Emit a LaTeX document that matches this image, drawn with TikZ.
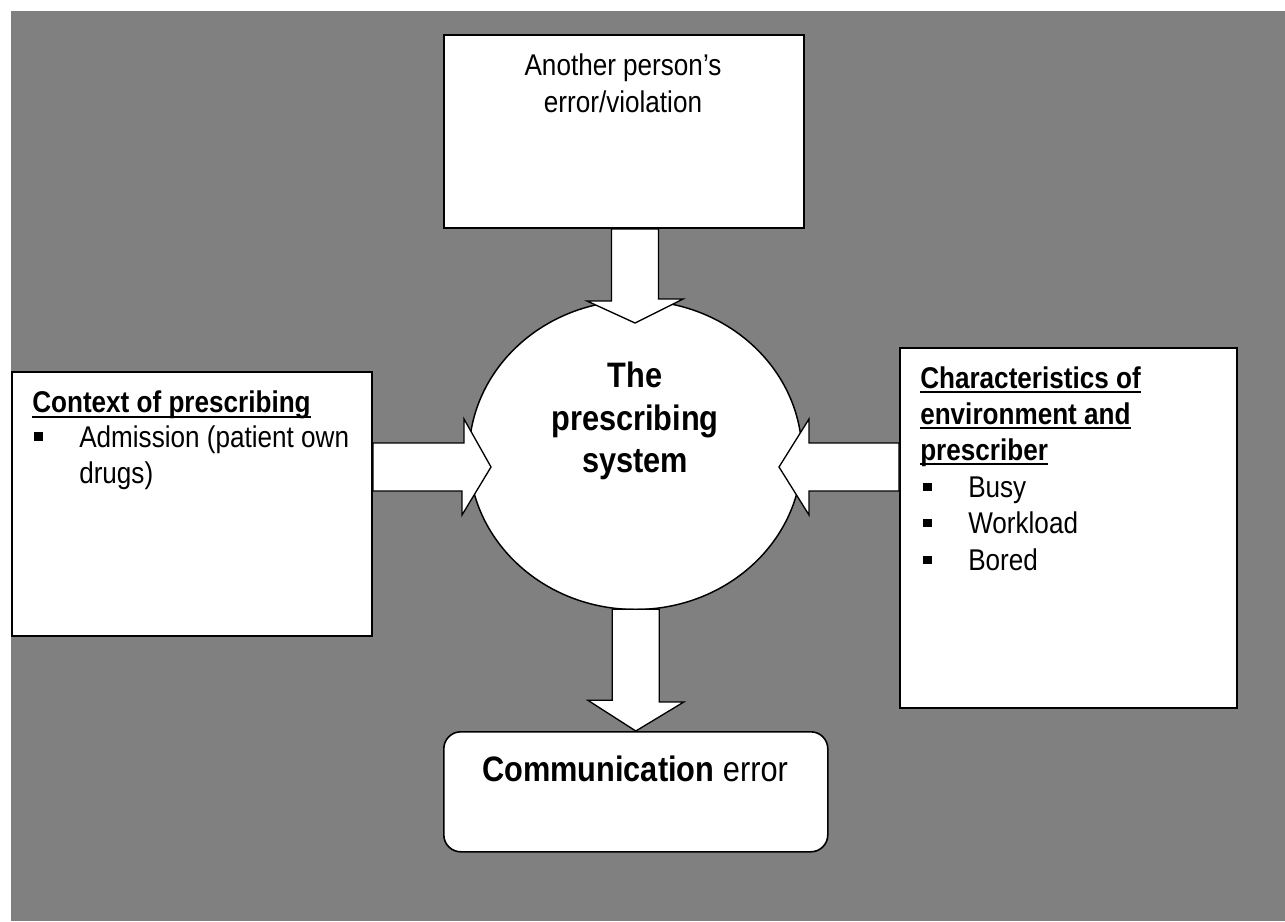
\documentclass[tikz,border=0pt]{standalone}
\usepackage{fontspec}
\setmainfont{Liberation Sans}[FakeStretch=0.87]
\usetikzlibrary{shapes.geometric,calc}
\definecolor{panel}{HTML}{808080}

\begin{document}
\begin{tikzpicture}[x=0.75pt,y=-0.75pt,
  box/.style={draw=black,fill=white,line width=1.5pt,inner sep=0pt,anchor=north west},
  hub/.style={ellipse,draw=black,fill=white,line width=1.1pt,inner sep=0pt},
  blockarrow/.style={draw=black,fill=white,line width=1pt,line join=miter},
  txt/.style={inner sep=0pt,font=\fontsize{22.5}{27}\selectfont},
  bigtxt/.style={inner sep=0pt,font=\fontsize{26.5}{31}\selectfont\bfseries},
  uline/.style={line width=1.5pt},
  bullet/.style={rectangle,fill=black,inner sep=0pt,minimum size=8.5*0.75pt}]

\useasboundingbox (0,0) rectangle (1285,921);
\fill[panel] (11,11) rectangle (1285,921);

% boxes
\node[box,minimum width=360*0.75pt,minimum height=193*0.75pt] (top) at (443,34) {};
\node[box,minimum width=360*0.75pt,minimum height=264*0.75pt] (left) at (11,371) {};
\node[box,minimum width=337*0.75pt,minimum height=360*0.75pt] (right) at (899,347) {};
\node[box,line width=1.2pt,rounded corners=17*0.75pt,minimum width=384*0.75pt,minimum height=120*0.75pt] (bottom) at (443,731) {};

% central system
\node[hub,minimum width=333*0.75pt,minimum height=309*0.75pt] (hub) at (635.5,455) {};

% block arrows
\coordinate (tA) at (635,323);
\coordinate (tB) at (tA |- top.south);
\draw[blockarrow] ($(tB)+(-23.5,0)$) -- ++(0,72) -- ++(-24.5,0) -- (tA)
  -- ++(48,-24) -- ++(-24.5,0) -- ($(tB)+(23.5,0)$) -- cycle;

\coordinate (bA) at (bottom.north);
\coordinate (bB) at (bA |- hub.south);
\draw[blockarrow] ($(bB)+(-23.5,-1)$) -- ++(0,91) -- ++(-24.5,0) -- (bA)
  -- ++(48,-29) -- ++(-24.5,0) -- ($(bB)+(23.5,-1)$) -- cycle;

\coordinate (lA) at (491,467);
\coordinate (lB) at (left.east |- lA);
\draw[blockarrow] ($(lB)+(0,-24)$) -- ++(91,0) -- ++(0,-24) -- (lA)
  -- ++(-29,48) -- ++(0,-24) -- ($(lB)+(0,24)$) -- cycle;

\coordinate (rA) at (779,467);
\coordinate (rB) at (right.west |- rA);
\draw[blockarrow] ($(rB)+(0,-24)$) -- ++(-90,0) -- ++(0,-24) -- (rA)
  -- ++(30,48) -- ++(0,-24) -- ($(rB)+(0,24)$) -- cycle;

% top box text
\node[txt,anchor=base] (t1) at (623,75) {Another person’s};
\node[txt,anchor=base] (t2) at (623,112) {error/violation};

% left box text
\node[txt,anchor=base west] (l0) at (32,412) {\bfseries Context of prescribing};
\draw[uline] ($(l0.base west)+(0,5)$) -- ($(l0.base east)+(0,5)$);
\node[bullet] (lb1) at (38.5,436.5) {};
\node[txt,anchor=base west] (l1) at (79,447) {Admission (patient own};
\node[txt,anchor=base west] (l2) at (79,483) {drugs)};

% right box text
\node[txt,anchor=base west] (r0) at (920,388) {\bfseries Characteristics of};
\node[txt,anchor=base west] (r1) at (920,424) {\bfseries environment and};
\node[txt,anchor=base west] (r2) at (920,460) {\bfseries prescriber};
\foreach \n in {r0,r1,r2}
  \draw[uline] ($(\n.base west)+(0,4)$) -- ($(\n.base east)+(0,4)$);
\node[bullet] (rb1) at (927.5,487) {};
\node[txt,anchor=base west] (r3) at (968,497) {Busy};
\node[bullet] (rb2) at (927.5,523) {};
\node[txt,anchor=base west] (r4) at (968,533) {Workload};
\node[bullet] (rb3) at (927.5,560) {};
\node[txt,anchor=base west] (r5) at (968,570) {Bored};

% hub text
\node[bigtxt,anchor=base] (h1) at (635,387) {The};
\node[bigtxt,anchor=base] (h2) at (635,430) {prescribing};
\node[bigtxt,anchor=base] (h3) at (635,472) {system};

% outcome text
\node[bigtxt,anchor=base] (o1) at (635,781) {Communication \mdseries error};

\end{tikzpicture}
\end{document}
